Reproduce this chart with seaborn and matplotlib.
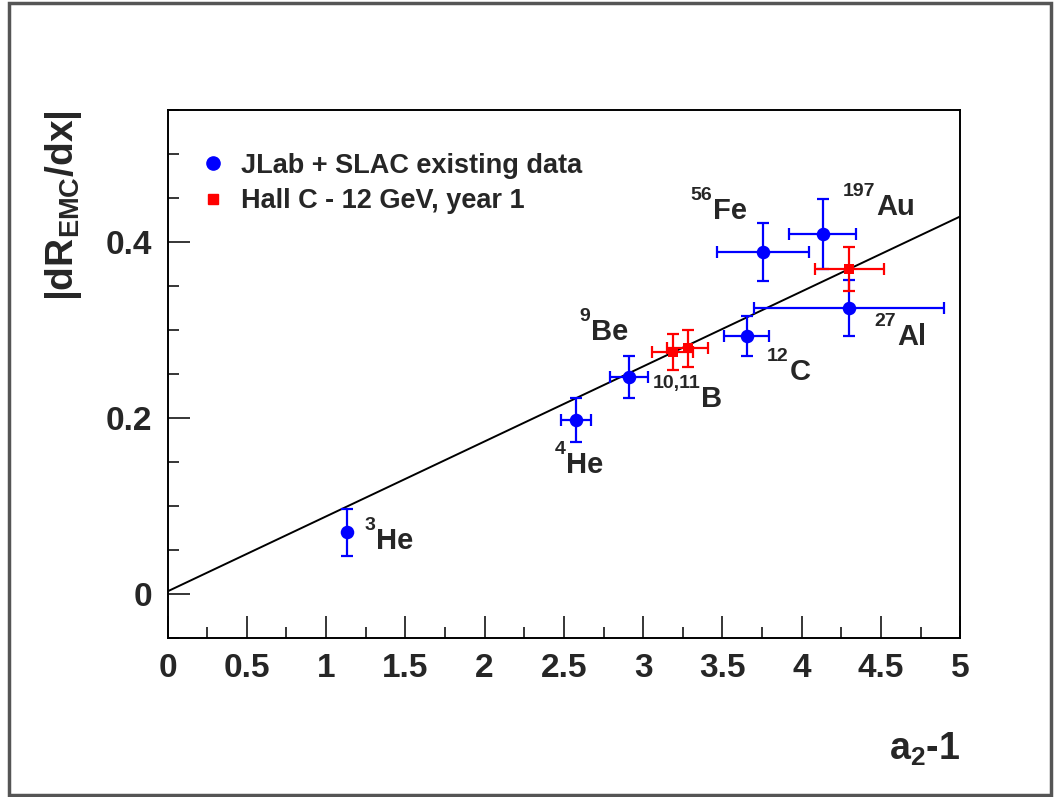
import numpy as np
import pandas as pd
import matplotlib
matplotlib.use("Agg")
import matplotlib.pyplot as plt
import seaborn as sns
from matplotlib.lines import Line2D
from matplotlib.patches import Rectangle
from matplotlib.transforms import offset_copy

# existing data (JLab + SLAC)
nuclei = ["3He", "4He", "9Be/10,11B", "12C", "56Fe", "197Au", "27Al"]
a2_minus_1 = [1.134, 2.576, 2.912, 3.653, 3.755, 4.133, 4.300]
a2_err = [0.0, 0.095, 0.119, 0.141, 0.29, 0.21, 0.60]
slope = [0.070, 0.198, 0.247, 0.293, 0.389, 0.409, 0.325]
slope_err = [0.027, 0.025, 0.024, 0.023, 0.033, 0.040, 0.032]

# projected Hall C 12 GeV year 1
hc_x = [3.186, 3.280, 4.300]
hc_xerr = [0.128, 0.13, 0.217]
hc_y = [0.275, 0.279, 0.369]
hc_yerr = [0.020, 0.021, 0.025]

# linear fit
fit_p0 = 0.003
fit_p1 = 0.0852

# nucleus labels: (mass number, symbol, x, y)
labels = [
    ("3", "He", 1.24, 0.060),
    ("4", "He", 2.44, 0.147),
    ("9", "Be", 2.60, 0.298),
    ("10,11", "B", 3.06, 0.222),
    ("12", "C", 3.78, 0.252),
    ("56", "Fe", 3.30, 0.435),
    ("197", "Au", 4.26, 0.440),
    ("27", "Al", 4.46, 0.292),
]

data = pd.DataFrame({"x": a2_minus_1, "xerr": a2_err, "y": slope, "yerr": slope_err})
hallc = pd.DataFrame({"x": hc_x, "xerr": hc_xerr, "y": hc_y, "yerr": hc_yerr})

sns.set_theme(style="white")
plt.rcParams["font.family"] = ["Liberation Sans", "DejaVu Sans"]
plt.rcParams["font.weight"] = "bold"
plt.rcParams["mathtext.fontset"] = "custom"
plt.rcParams["mathtext.rm"] = "Liberation Sans:bold"
plt.rcParams["mathtext.it"] = "Liberation Sans:bold"
plt.rcParams["mathtext.bf"] = "Liberation Sans:bold"

fig = plt.figure(figsize=(10.54, 7.97), dpi=100)
ax = fig.add_axes([0.159, 0.1995, 0.752, 0.6625])

blue = "#0000ff"
red = "#ff0000"

xs = np.linspace(0, 5, 50)
sns.lineplot(x=xs, y=fit_p0 + fit_p1 * xs, ax=ax, color="black", lw=1.4, zorder=2)

ax.errorbar(data["x"], data["y"], xerr=data["xerr"], yerr=data["yerr"], fmt="none",
            ecolor=blue, elinewidth=1.6, capsize=4.3, capthick=1.6, zorder=3)
sns.scatterplot(data=data, x="x", y="y", ax=ax, color=blue, marker="o", s=95,
                edgecolor=blue, linewidth=0, zorder=4)

ax.errorbar(hallc["x"], hallc["y"], xerr=hallc["xerr"], yerr=hallc["yerr"], fmt="none",
            ecolor=red, elinewidth=1.6, capsize=4.3, capthick=1.6, zorder=5)
sns.scatterplot(data=hallc, x="x", y="y", ax=ax, color=red, marker="s", s=55,
                edgecolor=red, linewidth=0, zorder=6)

ax.set_xlim(0, 5)
ax.set_ylim(-0.05, 0.55)

# nucleus labels: superscript mass number, then the element symbol right after it
renderer = fig.canvas.get_renderer()
for mass, sym, lx, ly in labels:
    sup = ax.text(lx, ly + 0.008, mass, fontsize=14, fontweight="bold",
                  va="bottom", ha="left", zorder=7)
    w = sup.get_window_extent(renderer=renderer).width
    ax.text(lx, ly, sym, fontsize=21, fontweight="bold", va="center", ha="left", zorder=7,
            transform=offset_copy(ax.transData, fig=fig, x=w + 1, y=0, units="dots"))

ax.set_xticks(np.arange(0, 5.01, 0.5))
ax.set_xticklabels(["0", "0.5", "1", "1.5", "2", "2.5", "3", "3.5", "4", "4.5", "5"])
ax.set_xticks(np.arange(0, 5.01, 0.25), minor=True)
ax.set_yticks([0, 0.2, 0.4])
ax.set_yticklabels(["0", "0.2", "0.4"])
ax.set_yticks(np.arange(-0.05, 0.551, 0.05), minor=True)
ax.tick_params(axis="both", which="major", direction="in", length=16, width=1.3,
               labelsize=24, pad=11, bottom=True, left=True, top=False, right=False)
ax.tick_params(axis="both", which="minor", direction="in", length=8, width=1.3,
               bottom=True, left=True, top=False, right=False)
for lab in ax.get_xticklabels() + ax.get_yticklabels():
    lab.set_fontweight("bold")
for sp in ax.spines.values():
    sp.set_linewidth(1.4)
    sp.set_color("black")

ax.set_xlabel(r"a$_{\mathregular{2}}$-1", fontsize=27, fontweight="bold")
ax.xaxis.set_label_coords(1.0, -0.175)
ax.xaxis.label.set_ha("right")
ax.set_ylabel(r"|dR$_{\mathregular{EMC}}$/dx|", fontsize=28, fontweight="bold")
ax.yaxis.set_label_coords(-0.105, 1.0)
ax.yaxis.label.set_ha("right")

handles = [
    Line2D([], [], ls="none", marker="o", color=blue, markersize=9.5),
    Line2D([], [], ls="none", marker="s", color=red, markersize=7.5),
]
ax.legend(handles, ["JLab + SLAC existing data", "Hall C - 12 GeV, year 1"],
          loc="upper left", bbox_to_anchor=(0.006, 0.965), frameon=False,
          prop={"size": 19.5, "weight": "bold"}, handletextpad=0.45,
          labelspacing=0.35, handlelength=1.2)

fig.patches.append(Rectangle((0.009, 0.002), 0.988, 0.994, transform=fig.transFigure,
                             fill=False, edgecolor="#555555", lw=2.5))

fig.savefig("out.png", dpi=100)
